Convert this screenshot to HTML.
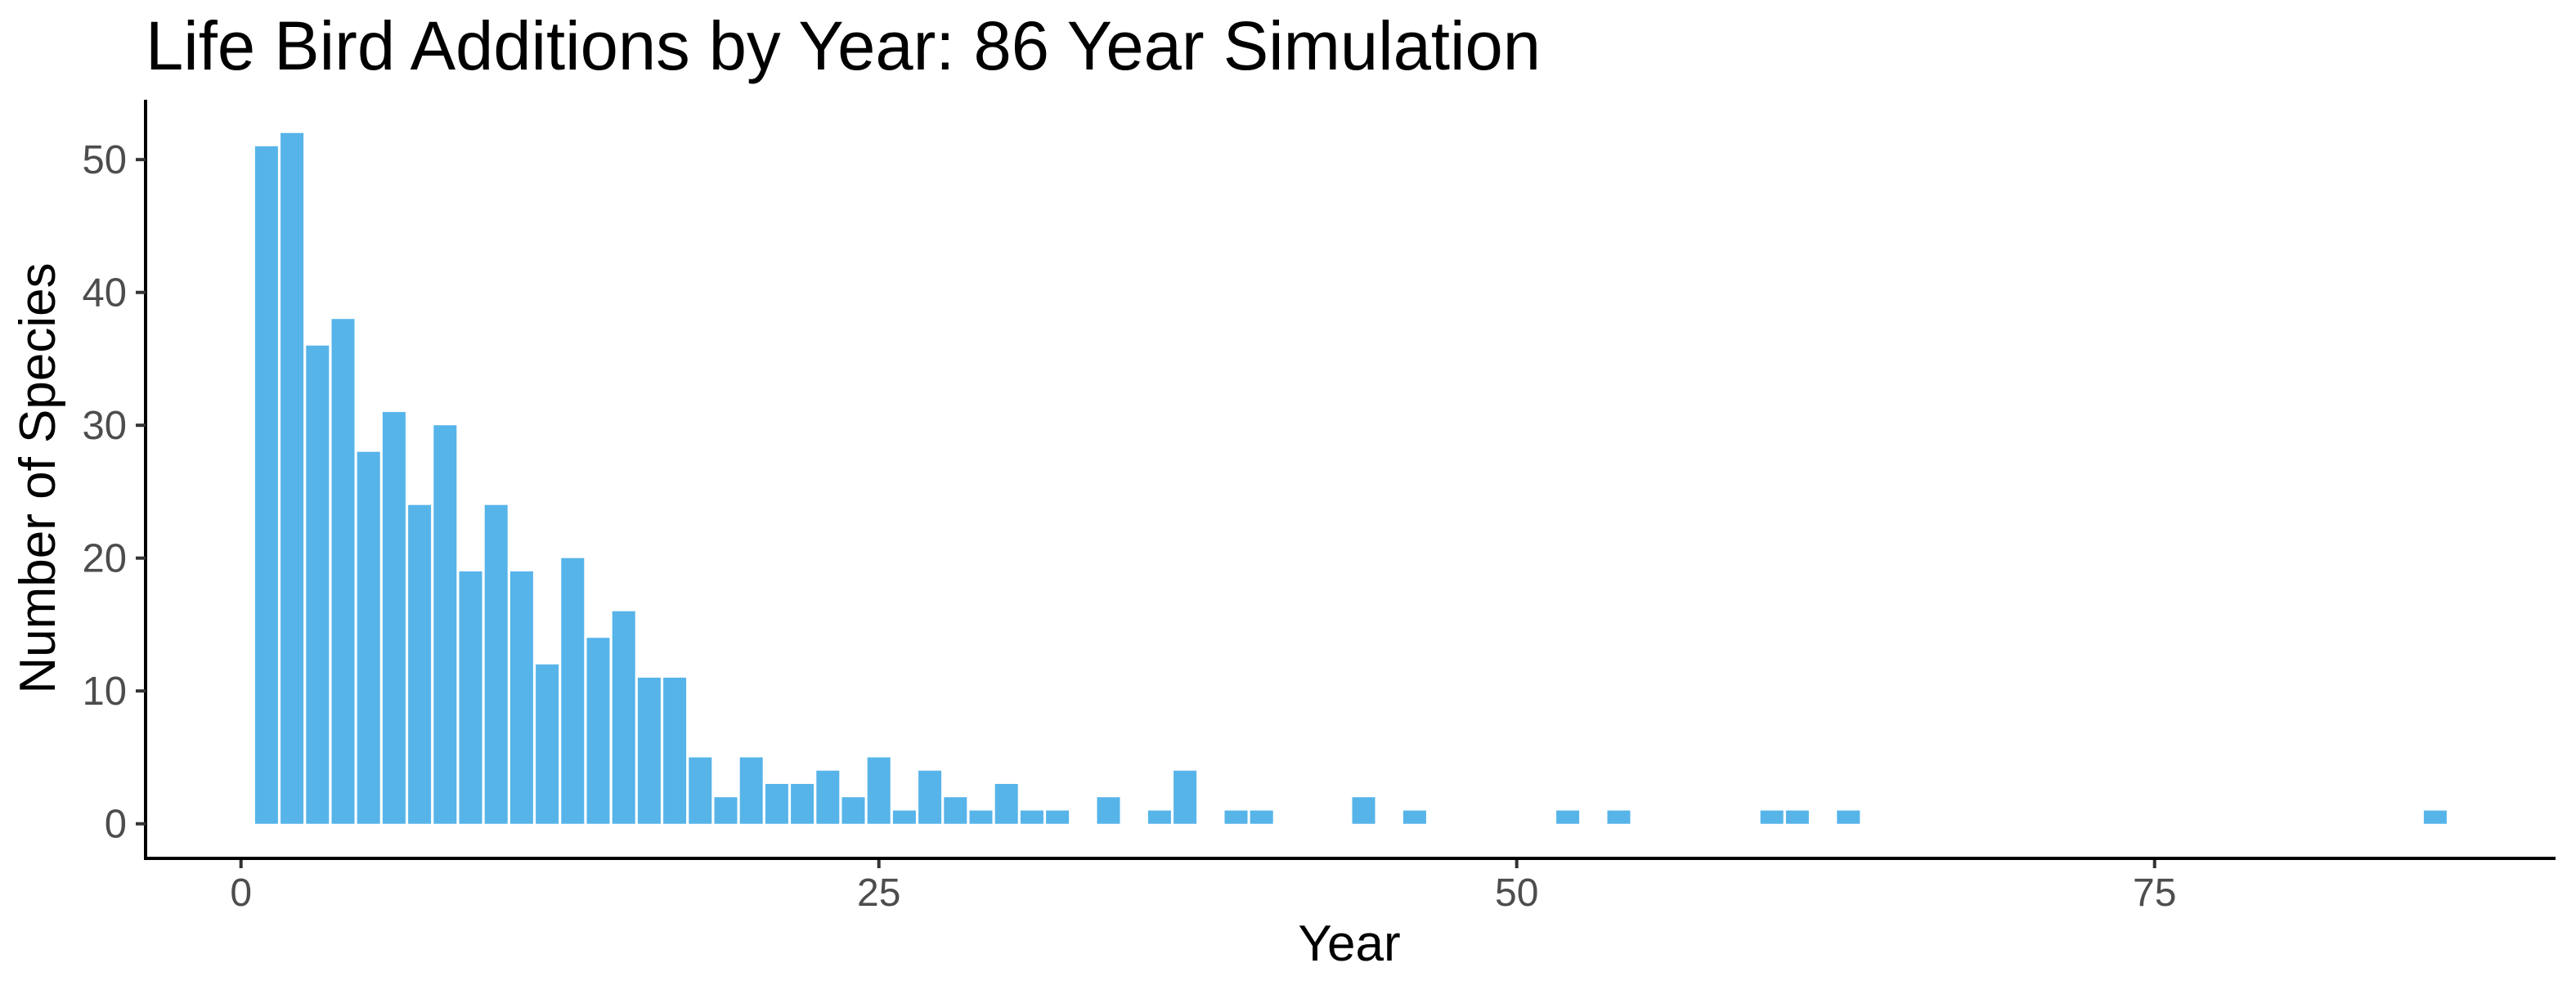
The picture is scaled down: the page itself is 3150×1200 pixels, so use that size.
<!DOCTYPE html>
<html><head><meta charset="utf-8"><style>
html,body{margin:0;padding:0;background:#fff;}
svg{display:block;font-family:"Liberation Sans",Arial,sans-serif;}
</style></head><body>
<svg id="chart" width="3150" height="1200" viewBox="0 0 3150 1200" xmlns="http://www.w3.org/2000/svg">
<text x="178" y="85" font-size="84" textLength="1706" lengthAdjust="spacingAndGlyphs" fill="#000">Life Bird Additions by Year: 86 Year Simulation</text>
<g id="bars"></g>
<g id="axes"></g>
<text transform="translate(67,585) rotate(-90)" text-anchor="middle" font-size="62" fill="#000">Number of Species</text>
<text x="1650" y="1175" text-anchor="middle" font-size="62" fill="#000">Year</text>
</svg>
<script>
const years = [1,2,3,4,5,6,7,8,9,10,11,12,13,14,15,16,17,18,19,20,21,22,23,24,25,26,27,28,29,30,31,32,34,36,37,39,40,44,46,52,54,60,61,63,86];
const counts = [51,52,36,38,28,31,24,30,19,24,19,12,20,14,16,11,11,5,2,5,3,3,4,2,5,1,4,2,1,3,1,1,2,1,4,1,1,2,1,1,1,1,1,1,1];
const xTicks = [0,25,50,75];
const yTicks = [0,10,20,30,40,50];

const NS = "http://www.w3.org/2000/svg";
const xScale = v => 294.7 + v * 31.2;
const yScale = v => 1007.7 - v * 16.25;
const barW = 28;

const bars = document.getElementById('bars');
years.forEach((yr, i) => {
  const r = document.createElementNS(NS, 'rect');
  r.setAttribute('x', xScale(yr) - barW / 2);
  r.setAttribute('y', yScale(counts[i]));
  r.setAttribute('width', barW);
  r.setAttribute('height', yScale(0) - yScale(counts[i]));
  r.setAttribute('fill', '#56B4E9');
  
  
  bars.appendChild(r);
});

const axes = document.getElementById('axes');
function el(tag, attrs) {
  const e = document.createElementNS(NS, tag);
  for (const k in attrs) e.setAttribute(k, attrs[k]);
  axes.appendChild(e);
  return e;
}
const yAxis = el('line', {x1: 178, y1: 122, x2: 178, y2: 1052, stroke: '#000', 'stroke-width': 4});


const xAxis = el('line', {x1: 176, y1: 1050, x2: 3125, y2: 1050, stroke: '#000', 'stroke-width': 4});



yTicks.forEach(v => {
  const t = el('line', {x1: 166, y1: yScale(v), x2: 178, y2: yScale(v), stroke: '#333', 'stroke-width': 4});
  
  
  const l = el('text', {x: 155, y: yScale(v) + 17, 'text-anchor': 'end', 'font-size': 49, fill: '#4d4d4d'});
  l.textContent = v;
  
  
});
xTicks.forEach(v => {
  const t = el('line', {x1: xScale(v), y1: 1052, x2: xScale(v), y2: 1062, stroke: '#333', 'stroke-width': 4});
  
  
  const l = el('text', {x: xScale(v), y: 1108, 'text-anchor': 'middle', 'font-size': 48, fill: '#4d4d4d'});
  l.textContent = v;
  
  
});
</script>
</body></html>
